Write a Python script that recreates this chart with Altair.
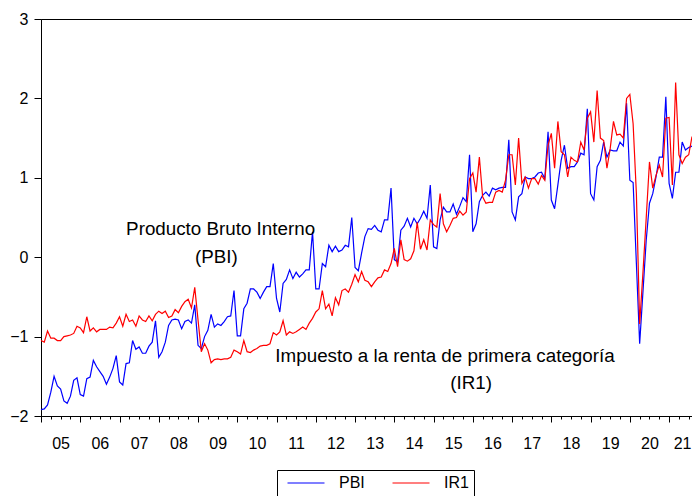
import altair as alt
import pandas as pd

# Monthly observations, 2005m1 .. 2021m8
pbi = [
    -1.92, -1.91, -1.86, -1.70, -1.50, -1.62, -1.66, -1.81, -1.84, -1.75, -1.55, -1.52,  # 2005
    -1.73, -1.75, -1.53, -1.51, -1.30, -1.38, -1.44, -1.50, -1.60, -1.51, -1.40, -1.24,  # 2006
    -1.57, -1.61, -1.34, -1.33, -1.05, -1.16, -1.13, -1.21, -1.21, -1.12, -1.07, -0.80,  # 2007
    -1.26, -1.19, -1.07, -0.86, -0.79, -0.78, -0.79, -0.90, -0.81, -0.79, -0.83, -0.60,  # 2008
    -1.11, -1.15, -1.00, -0.92, -0.72, -0.88, -0.84, -0.86, -0.81, -0.75, -0.74, -0.42,  # 2009
    -0.99, -0.99, -0.65, -0.58, -0.40, -0.40, -0.44, -0.52, -0.44, -0.37, -0.37, -0.08,  # 2010
    -0.52, -0.69, -0.33, -0.28, -0.16, -0.27, -0.19, -0.25, -0.21, -0.16, -0.16, 0.32,   # 2011
    -0.40, -0.40, -0.08, -0.12, 0.15, 0.07, 0.14, 0.07, 0.09, 0.15, 0.13, 0.50,          # 2012
    -0.13, -0.17, 0.05, 0.26, 0.36, 0.35, 0.40, 0.34, 0.32, 0.47, 0.47, 0.87,            # 2013
    -0.03, -0.06, 0.34, 0.39, 0.49, 0.38, 0.49, 0.42, 0.49, 0.58, 0.49, 0.91,            # 2014
    0.13, 0.11, 0.47, 0.63, 0.57, 0.57, 0.67, 0.54, 0.64, 0.75, 0.70, 1.29,              # 2015
    0.32, 0.42, 0.70, 0.78, 0.82, 0.77, 0.87, 0.85, 0.87, 0.88, 0.88, 1.48,              # 2016
    0.57, 0.47, 0.76, 0.80, 1.01, 0.99, 0.99, 1.01, 1.06, 1.07, 0.99, 1.58,              # 2017
    0.72, 0.61, 0.91, 1.22, 1.41, 1.12, 1.14, 1.14, 1.20, 1.31, 1.29, 1.87,              # 2018
    0.80, 0.72, 1.14, 1.22, 1.45, 1.26, 1.35, 1.34, 1.34, 1.45, 1.40, 1.94,              # 2019
    0.97, 0.94, -0.08, -1.09, -0.44, 0.21, 0.68, 0.80, 1.01, 1.26, 1.26, 2.02,           # 2020
    0.93, 0.74, 1.07, 1.07, 1.45, 1.35, 1.38, 1.40,                                      # 2021
]

ir1 = [
    -1.05, -1.07, -0.93, -1.02, -1.02, -1.05, -1.05, -1.00, -0.99, -0.98, -0.96, -0.87,  # 2005
    -0.89, -0.95, -0.75, -0.93, -0.89, -0.94, -0.91, -0.91, -0.91, -0.88, -0.89, -0.83,  # 2006
    -0.75, -0.87, -0.72, -0.81, -0.79, -0.87, -0.74, -0.79, -0.81, -0.74, -0.80, -0.72,  # 2007
    -0.68, -0.71, -0.68, -0.76, -0.74, -0.66, -0.70, -0.62, -0.56, -0.53, -0.64, -0.38,  # 2008
    -0.79, -1.19, -1.09, -1.17, -1.33, -1.29, -1.28, -1.29, -1.28, -1.28, -1.26, -1.17,  # 2009
    -1.19, -1.22, -1.05, -1.19, -1.20, -1.17, -1.15, -1.12, -1.11, -1.11, -1.09, -0.95,  # 2010
    -0.98, -0.94, -0.80, -0.98, -0.94, -0.96, -0.94, -0.91, -0.88, -0.91, -0.83, -0.77,  # 2011
    -0.69, -0.65, -0.42, -0.65, -0.59, -0.74, -0.51, -0.60, -0.42, -0.40, -0.44, -0.34,  # 2012
    -0.22, -0.31, -0.18, -0.29, -0.31, -0.37, -0.31, -0.26, -0.25, -0.16, -0.18, -0.08,  # 2013
    0.11, -0.12, 0.22, -0.03, -0.05, -0.02, 0.08, 0.44, 0.10, 0.22, 0.09, 0.47,          # 2014
    0.41, 0.38, 0.80, 0.42, 0.32, 0.40, 0.49, 0.50, 0.58, 0.53, 0.57, 0.99,              # 2015
    1.06, 0.82, 1.26, 0.76, 0.68, 0.69, 0.69, 0.82, 0.84, 0.82, 0.97, 1.29,              # 2016
    1.29, 0.91, 1.50, 0.93, 1.01, 0.87, 0.99, 0.99, 0.92, 1.03, 0.97, 1.41,              # 2017
    1.56, 1.12, 1.71, 1.33, 1.29, 1.01, 1.26, 1.22, 1.20, 1.45, 1.35, 1.75,              # 2018
    1.83, 1.45, 2.10, 1.50, 1.47, 1.12, 1.37, 1.71, 1.54, 1.55, 1.50, 2.00,              # 2019
    2.05, 1.68, 0.80, -0.84, -0.20, 0.49, 1.20, 0.87, 1.03, 1.16, 1.01, 1.75,            # 2020
    1.76, 0.91, 2.20, 1.29, 1.18, 1.26, 1.29, 1.52,                                      # 2021
]

series_names = ["PBI", "IR1"]
series_colors = ["#0000ff", "#ff0000"]
first_year = 2005

note_text = ["Producto Bruto Interno", "(PBI)",
             "Impuesto a la renta de primera categoría", "(IR1)"]
note_t = [54.9, 53.6, 123.5, 131.5]
note_value = [0.35, 0.0, -1.25, -1.59]

n = len(pbi)
df = pd.DataFrame({
    "t": list(range(n)) * 2,
    "value": pbi + ir1,
    "serie": ["PBI"] * n + ["IR1"] * n,
})
notes = pd.DataFrame({"t": note_t, "value": note_value, "label": note_text})

FONT = "Liberation Sans"
last_jan = (n - 1) // 12 * 12

x_scale = alt.Scale(domain=[0, n - 1], nice=False, zero=False)
y_scale = alt.Scale(domain=[-2, 3], nice=False, zero=False)

x_axis = alt.Axis(
    values=list(range(0, n, 3)),
    labelExpr=f"datum.value % 12 === 0 ? format(({first_year} + datum.value / 12) % 100, '02d') : ''",
    tickSize={"condition": {"test": "datum.value % 12 === 0", "value": 6}, "value": 3},
    labelOffset={"condition": {"test": f"datum.value === {last_jan}", "value": 13}, "value": 19.6},
    labelOverlap=False,
    labelBound=False,
    labelFlush=False,
    labelPadding=13,
    labelFontSize=16,
    labelFont=FONT,
    labelColor="black",
    tickColor="black",
    domainColor="black",
    grid=False,
    title=None,
)
y_axis = alt.Axis(
    values=[-2, -1, 0, 1, 2, 3],
    tickSize=7,
    labelPadding=6,
    labelFontSize=16,
    labelFont=FONT,
    labelColor="black",
    tickColor="black",
    domainColor="black",
    grid=False,
    title=None,
)

color = alt.Color(
    "serie:N",
    scale=alt.Scale(domain=series_names, range=series_colors),
    legend=alt.Legend(
        orient="none",
        legendX=236,
        legendY=451,
        direction="horizontal",
        title=None,
        symbolType="M-3,0H3",
        symbolSize=152,
        symbolStrokeWidth=1.2,
        symbolOffset=16,
        labelOffset=25,
        labelFontSize=16,
        labelFont=FONT,
        labelColor="black",
        strokeColor="black",
        fillColor="white",
        padding=5,
        columnPadding=22,
    ),
)

def series_layer(name):
    return alt.Chart(df).transform_filter(alt.datum.serie == name).mark_line(
        strokeWidth=1.2
    ).encode(
        x=alt.X("t:Q", scale=x_scale, axis=x_axis),
        y=alt.Y("value:Q", scale=y_scale, axis=y_axis),
        color=color,
    )

text = alt.Chart(notes).mark_text(
    font=FONT, fontSize=18.8, color="black", align="center", baseline="middle"
).encode(
    x=alt.X("t:Q", scale=x_scale, axis=x_axis),
    y=alt.Y("value:Q", scale=y_scale, axis=y_axis),
    text="label:N",
)

chart = alt.layer(series_layer("PBI"), series_layer("IR1"), text).properties(
    width=651,
    height=397,
    padding={"left": 33, "top": 11, "right": 0, "bottom": 80},
    autosize=alt.AutoSizeParams(type="none"),
).configure(font=FONT).configure_view(stroke="black", strokeWidth=1)

chart.save("out.html", embed_options={"renderer": "svg", "actions": False})
